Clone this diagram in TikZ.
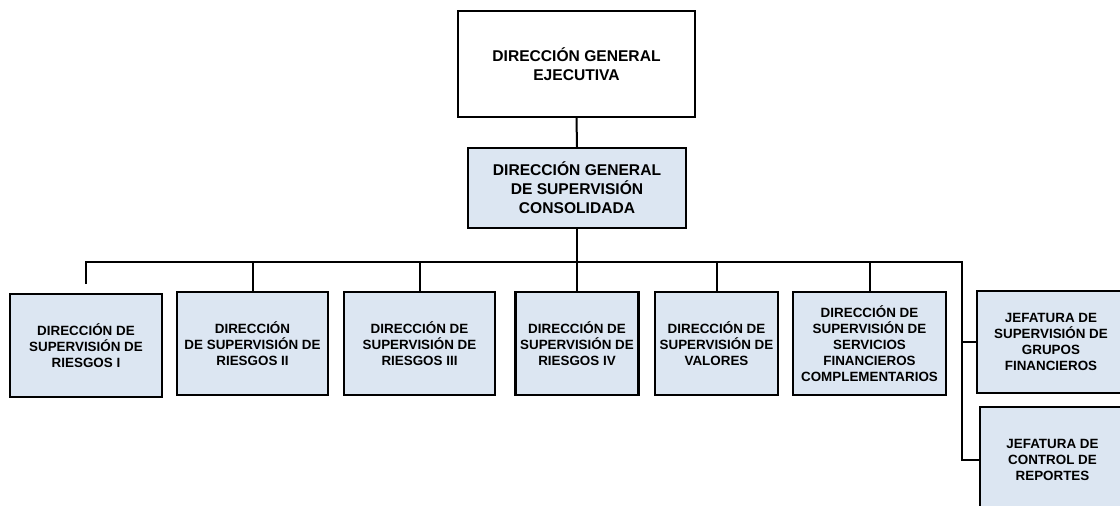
\documentclass[tikz,border=0pt]{standalone}
\usepackage{fontspec}
\setmainfont{Liberation Sans}
\definecolor{azulcaja}{RGB}{220,230,242}
\begin{document}
\begin{tikzpicture}[
                x=1pt, y=-1pt,
                caja/.style={draw, fill=azulcaja, line width=2.2pt, align=center, inner sep=0pt,
                    font=\bfseries\fontsize{13.4}{16}\selectfont},
                cajagrande/.style={caja, font=\bfseries\fontsize{15.6}{19}\selectfont},
                enlace/.style={line width=2pt}
            ]
            \useasboundingbox (0,0) rectangle (1120,506);

            % 上层
            \node[cajagrande, fill=white, minimum width=237, minimum height=106] (ejec) at (576.5,64) {DIRECCIÓN GENERAL\\EJECUTIVA};
            \node[cajagrande, minimum width=218, minimum height=80] (consol) at (577,188) {DIRECCIÓN GENERAL\\DE SUPERVISIÓN\\CONSOLIDADA};

            % 下层
            \node[caja, minimum width=152, minimum height=103] (r1) at (86,345.5) {DIRECCIÓN DE\\SUPERVISIÓN DE\\RIESGOS I};
            \node[caja, minimum width=151, minimum height=103] (r2) at (252.5,343.5) {DIRECCIÓN\\DE SUPERVISIÓN DE\\RIESGOS II};
            \node[caja, minimum width=151, minimum height=103] (r3) at (419.5,343.5) {DIRECCIÓN DE\\SUPERVISIÓN DE\\RIESGOS III};
            \node[caja, minimum width=123, minimum height=103] (r4) at (577,343.5) {DIRECCIÓN DE\\SUPERVISIÓN DE\\RIESGOS IV};
            \node[caja, minimum width=123, minimum height=103] (val) at (716.5,343.5) {DIRECCIÓN DE\\SUPERVISIÓN DE\\VALORES};
            \node[caja, minimum width=153, minimum height=103] (serv) at (869.5,343.5) {DIRECCIÓN DE\\SUPERVISIÓN DE\\SERVICIOS\\FINANCIEROS\\COMPLEMENTARIOS};
            \node[caja, minimum width=148, minimum height=102] (grupos) at (1051,342) {JEFATURA DE\\SUPERVISIÓN DE\\GRUPOS\\FINANCIEROS};
            \node[caja, minimum width=145, minimum height=106] (reportes) at (1052.5,460) {JEFATURA DE\\CONTROL DE\\REPORTES};

            % 连线
            \coordinate (izq) at (86,284);
            \coordinate (codo) at (962,262);
            \draw[enlace] (ejec.south) -- (consol.north);
            \draw[enlace] (consol.south) -- (r4.north);
            \draw[enlace] (izq) |- (codo) |- (reportes.west);
            \draw[enlace] (codo) |- (grupos.west);
            \foreach \n in {r2,r3,val,serv}
                \draw[enlace] (\n.north) -- (\n.north |- codo);
        \end{tikzpicture}
\end{document}
